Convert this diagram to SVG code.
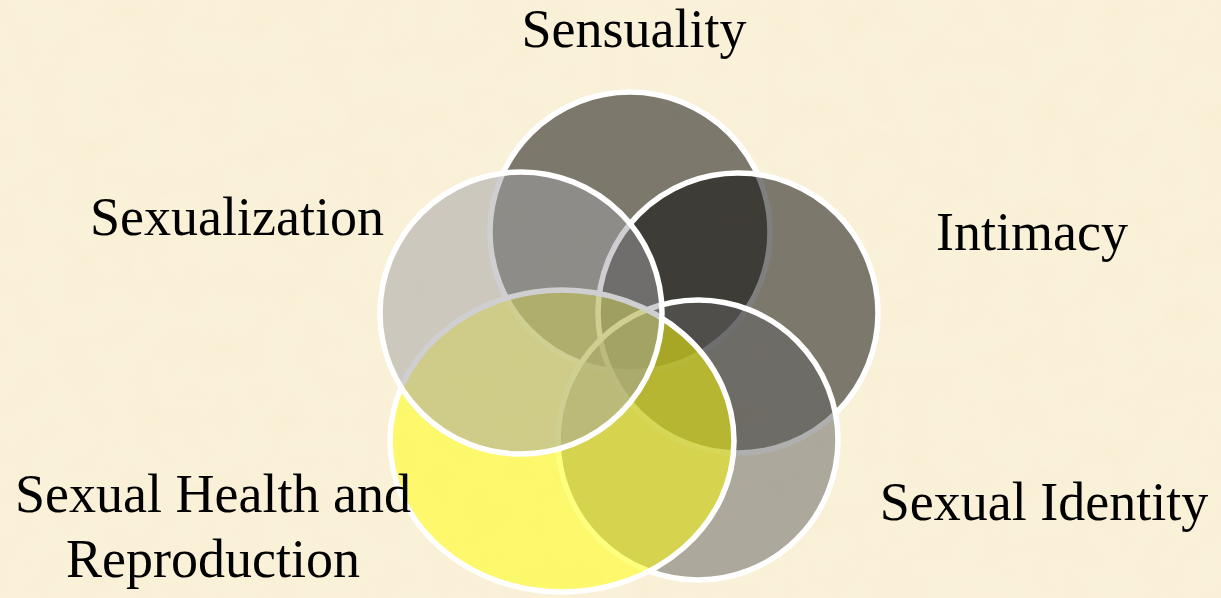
<svg xmlns="http://www.w3.org/2000/svg" width="1221" height="598" viewBox="0 0 1221 598">
  <defs>
    <filter id="parchment" x="0" y="0" width="100%" height="100%">
      <feTurbulence type="fractalNoise" baseFrequency="0.03" numOctaves="3" seed="7" result="noise"/>
      <feColorMatrix in="noise" type="matrix" values="0 0 0 0 0.88  0 0 0 0 0.80  0 0 0 0 0.58  0 0 0 -1.6 0.95" result="tint"/>
      <feComposite in="tint" in2="SourceGraphic" operator="in"/>
    </filter>
    <style>
      .ring { stroke: #ffffff; stroke-width: 5.5; fill-opacity: 0.5; }
      .label { font-family: "Liberation Serif", "Times New Roman", serif; font-size: 54px; fill: #000000; text-anchor: middle; }
    </style>
  </defs>

  <rect x="0" y="0" width="1221" height="598" fill="#faf1d9"/>
  <rect x="0" y="0" width="1221" height="598" fill="#ffffff" filter="url(#parchment)" opacity="0.25"/>

  <g id="connectors"></g>

  <g id="node-sensuality">
    <circle class="ring" cx="630" cy="232" r="140" fill="#000000"/>
    <text class="label" x="634" y="47">Sensuality</text>
  </g>

  <g id="node-intimacy">
    <circle class="ring" cx="738" cy="313" r="140" fill="#000000"/>
    <text class="label" x="1032" y="250">Intimacy</text>
  </g>

  <g id="node-sexual-identity">
    <circle class="ring" cx="698" cy="440" r="140" fill="#606060"/>
    <text class="label" x="1044" y="520">Sexual Identity</text>
  </g>

  <g id="node-sexual-health">
    <ellipse class="ring" cx="562" cy="441" rx="172" ry="151" fill="#ffff00"/>
    <text class="label" x="213" y="512">Sexual Health and</text>
    <text class="label" x="213" y="577">Reproduction</text>
  </g>

  <g id="node-sexualization">
    <circle class="ring" cx="521" cy="313" r="141" fill="#a0a0a4"/>
    <text class="label" x="237" y="235">Sexualization</text>
  </g>
</svg>
